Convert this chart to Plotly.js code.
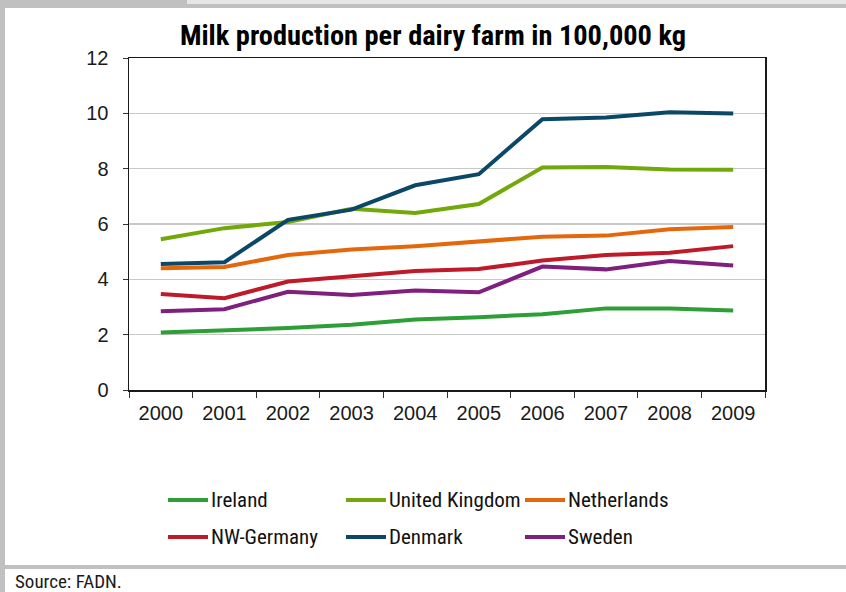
<!DOCTYPE html>
<html>
<head>
<meta charset="utf-8">
<script src="https://cdn.plot.ly/plotly-3.0.1.min.js"></script>
<style>
  html, body { margin: 0; padding: 0; background: #ffffff; }
  #chart { width: 846px; height: 592px; }
</style>
</head>
<body>
<div id="chart"></div>
<script>
// ---- Data ----
const years = ["2000","2001","2002","2003","2004","2005","2006","2007","2008","2009"];
const seriesNames = ["Ireland","United Kingdom","Netherlands","NW-Germany","Denmark","Sweden"];
const ireland     = [2.08, 2.16, 2.24, 2.36, 2.55, 2.63, 2.74, 2.95, 2.95, 2.87];
const unitedKingdom = [5.45, 5.85, 6.07, 6.55, 6.40, 6.72, 8.04, 8.06, 7.97, 7.96];
const netherlands = [4.40, 4.45, 4.88, 5.08, 5.20, 5.37, 5.54, 5.58, 5.81, 5.89];
const nwGermany   = [3.47, 3.32, 3.92, 4.10, 4.30, 4.37, 4.68, 4.88, 4.96, 5.20];
const denmark     = [4.55, 4.62, 6.15, 6.52, 7.40, 7.80, 9.79, 9.85, 10.04, 9.99];
const sweden      = [2.85, 2.92, 3.55, 3.43, 3.60, 3.53, 4.46, 4.36, 4.66, 4.50];
const seriesValues = [ireland, unitedKingdom, netherlands, nwGermany, denmark, sweden];
const yTicks = [0, 2, 4, 6, 8, 10, 12];
const titleText = "Milk production per dairy farm in 100,000 kg";
const sourceText = "Source: FADN.";

// ---- Styles ----
const colors = ["#2e9e36", "#72a80a", "#e4670c", "#bf1a2a", "#0b4868", "#80207e"];
const W = 846, H = 592;
const M = {l: 129, r: 81, t: 58, b: 202};
const narrow = "Roboto Condensed, Liberation Sans, sans-serif";
const regular = "Liberation Sans, Arial, sans-serif";

const pw = W - M.l - M.r, ph = H - M.t - M.b;
const px = x => (x - M.l) / pw;       // pixel -> paper x
const py = y => (H - M.b - y) / ph;   // pixel -> paper y

const traces = seriesNames.map((name, i) => ({
  type: "scatter", mode: "lines", name: name,
  x: years, y: seriesValues[i],
  line: {color: colors[i], width: 4},
  showlegend: false, hoverinfo: "x+y+name"
}));

// Frame shapes
const shapes = [
  {type:"rect", xref:"paper", yref:"paper", x0:px(0), x1:px(W), y0:py(0), y1:py(8), fillcolor:"#c0c0c0", line:{width:0}, layer:"below"},
  {type:"rect", xref:"paper", yref:"paper", x0:px(187), x1:px(W), y0:py(0), y1:py(4), fillcolor:"#e6e6e6", line:{width:0}, layer:"below"},
  {type:"rect", xref:"paper", yref:"paper", x0:px(0), x1:px(5), y0:py(0), y1:py(H), fillcolor:"#c0c0c0", line:{width:0}, layer:"below"},
  {type:"rect", xref:"paper", yref:"paper", x0:px(0), x1:px(W), y0:py(565), y1:py(569), fillcolor:"#c0c0c0", line:{width:0}, layer:"below"}
];
const annotations = [
  {xref:"paper", yref:"paper", x:px(13), y:py(581), xanchor:"left", yanchor:"middle",
   text: sourceText, showarrow:false, font:{family:narrow, size:19, color:"#1a1a1a"}}
];

// Custom legend (3 columns x 2 rows)
const colX = [168, 346, 525], rowY = [500, 537];
seriesNames.forEach((name, i) => {
  const cx = colX[i % 3], cy = rowY[Math.floor(i / 3)];
  shapes.push({type:"line", xref:"paper", yref:"paper", x0:px(cx), x1:px(cx+40), y0:py(cy), y1:py(cy),
    line:{color:colors[i], width:4}});
  annotations.push({xref:"paper", yref:"paper", x:px(cx+41), y:py(cy), xanchor:"left", yanchor:"middle",
    text:name, showarrow:false, font:{family:narrow, size:21, color:"#111111"}});
});

const layout = {
  width: W, height: H,
  margin: M,
  paper_bgcolor: "#ffffff", plot_bgcolor: "#ffffff",
  showlegend: false,
  title: {text: "<b>" + titleText + "</b>", xref:"container", yref:"container",
          x: 433 / W, y: 1 - 35 / H, xanchor:"center", yanchor:"middle",
          font: {family: narrow, size: 28.4, color: "#000000"}},
  xaxis: {
    type: "category", range: [-0.5, 9.5], tickson: "boundaries",
    ticks: "outside", ticklen: 6, tickcolor: "#333333", tickwidth: 1,
    showline: true, linecolor: "#1a1a1a", linewidth: 1.5, mirror: true,
    showgrid: false, ticklabelstandoff: 4,
    tickfont: {family: regular, size: 20, color: "#1a1a1a"}
  },
  yaxis: {
    range: [0, 12], tickvals: yTicks, ticktext: yTicks.map(String),
    ticks: "outside", ticklen: 5, tickcolor: "#333333", tickwidth: 1,
    showline: true, linecolor: "#1a1a1a", linewidth: 1.5, mirror: true,
    showgrid: true, gridcolor: "#c8c8c8", gridwidth: 1.5, zeroline: false,
    ticklabelstandoff: 10,
    tickfont: {family: regular, size: 20, color: "#1a1a1a"}
  },
  shapes: shapes,
  annotations: annotations
};

Plotly.newPlot("chart", traces, layout, {displayModeBar: false, staticPlot: true});
</script>
</body>
</html>
